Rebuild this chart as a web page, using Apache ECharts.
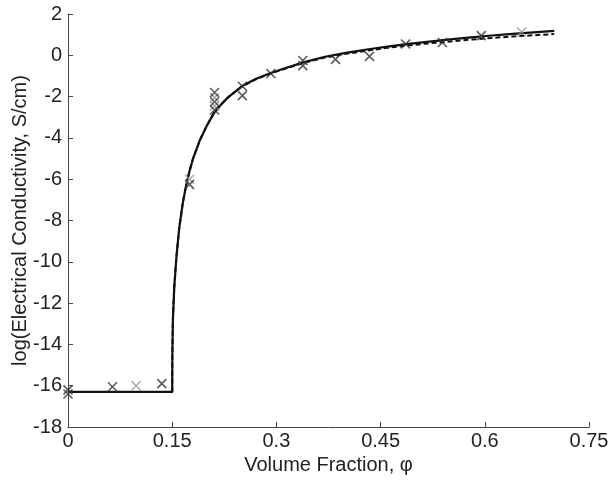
<!DOCTYPE html>
<html><head><meta charset="utf-8">
<script src="https://cdn.jsdelivr.net/npm/echarts@6/dist/echarts.min.js"></script>
<style>html,body{margin:0;padding:0;background:#fff}#c{width:613px;height:481px}</style>
</head><body><div id="c"></div>
<script>
var xTicks = [0, 0.15, 0.3, 0.45, 0.6, 0.75];
var fitPhi    = [0, 0.15, 0.1502, 0.151, 0.153, 0.156, 0.16, 0.165, 0.17, 0.175, 0.18, 0.19, 0.2, 0.21, 0.22, 0.23, 0.25, 0.27, 0.29, 0.31, 0.34, 0.37, 0.40, 0.43, 0.46, 0.49, 0.52, 0.55, 0.58, 0.61, 0.64, 0.67, 0.70];
var fitSolid  = [-16.3, -16.3, -14.5, -12.8, -11.2, -9.8, -8.4, -7.2, -6.3, -5.6, -5.0, -4.1, -3.4, -2.8, -2.4, -2.05, -1.5, -1.15, -0.88, -0.65, -0.33, -0.07, 0.12, 0.28, 0.42, 0.55, 0.66, 0.77, 0.87, 0.96, 1.04, 1.11, 1.18];
var fitDashed = [-16.3, -16.3, -14.5, -12.8, -11.2, -9.8, -8.4, -7.2, -6.3, -5.6, -5.0, -4.1, -3.4, -2.8, -2.4, -2.05, -1.52, -1.17, -0.9, -0.68, -0.36, -0.11, 0.07, 0.22, 0.36, 0.48, 0.58, 0.67, 0.76, 0.84, 0.91, 0.97, 1.03];
var blackPhi = [0, 0, 0.064, 0.135, 0.175, 0.211, 0.211, 0.211, 0.251, 0.251, 0.292, 0.338, 0.338, 0.385, 0.434, 0.486, 0.539, 0.595];
var blackLog = [-16.2, -16.4, -16.05, -15.9, -6.25, -1.8, -2.25, -2.65, -1.5, -1.95, -0.88, -0.25, -0.5, -0.2, -0.05, 0.55, 0.62, 0.95];
var grayPhi = [0.098, 0.175, 0.211, 0.211, 0.653];
var grayLog = [-16.0, -6.0, -2.05, -2.45, 1.13];

function pairs(xs, ys){ return xs.map(function(x,i){ return [x, ys[i]]; }); }
var cross = 'path://M0,0L10,10M10,0L0,10';
var font = 'Liberation Sans, Arial, sans-serif';
var chart = echarts.init(document.getElementById('c'), null, {renderer:'canvas'});
chart.setOption({
  animation:false,
  backgroundColor:'#fff',
  grid:{left:68, right:24, top:14, bottom:54, containLabel:false, outerBoundsMode:'none'},
  xAxis:{type:'value', min:0, max:0.75, interval:0.15,
    name:'Volume Fraction, \u03c6', nameLocation:'middle', nameGap:28, nameMoveOverlap:false,
    nameTextStyle:{fontFamily:font, fontSize:20, color:'#222'},
    axisLine:{show:true, onZero:false, lineStyle:{color:'#444', width:1}},
    axisTick:{show:true, inside:true, length:5, lineStyle:{color:'#444'}},
    axisLabel:{fontFamily:font, fontSize:20, color:'#222', margin:4,
      formatter:function(v){ return String(+v.toFixed(2)); }},
    splitLine:{show:false}},
  yAxis:{type:'value', min:-18, max:2, interval:2,
    name:'log(Electrical Conductivity, S/cm)', nameLocation:'middle', nameGap:38, nameMoveOverlap:false,
    nameTextStyle:{fontFamily:font, fontSize:20, color:'#222'},
    axisLine:{show:true, onZero:false, lineStyle:{color:'#444', width:1}},
    axisTick:{show:true, inside:true, length:5, lineStyle:{color:'#444'}},
    axisLabel:{fontFamily:font, fontSize:20, color:'#222', margin:6},
    splitLine:{show:false}},
  series:[
    {type:'line', data:pairs(fitPhi, fitDashed), showSymbol:false, symbol:'none',
      lineStyle:{color:'#111', width:2, type:[5,3]}, z:2},
    {type:'line', data:pairs(fitPhi, fitSolid), showSymbol:false, symbol:'none',
      lineStyle:{color:'#111', width:2.2}, z:3},
    {type:'scatter', data:pairs(grayPhi, grayLog), symbol:cross, symbolSize:9,
      itemStyle:{color:'transparent', borderColor:'#999', borderWidth:1.6}, z:4},
    {type:'scatter', data:pairs(blackPhi, blackLog), symbol:cross, symbolSize:9,
      itemStyle:{color:'transparent', borderColor:'#333', borderWidth:1.6}, z:5}
  ]
});
</script></body></html>
